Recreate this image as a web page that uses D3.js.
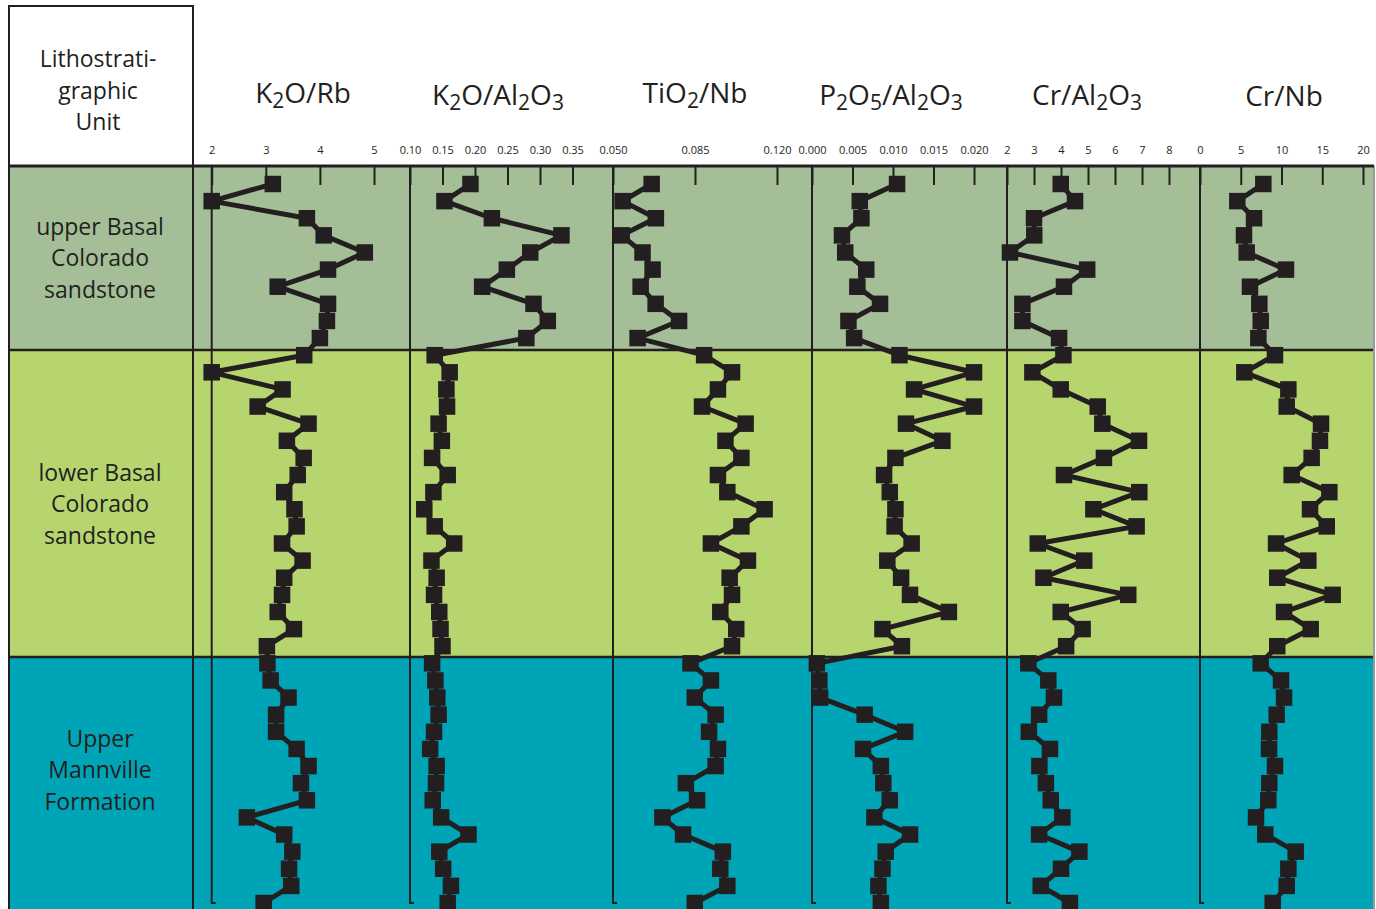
<!DOCTYPE html>
<html>
<head>
<meta charset="utf-8">
<script src="https://cdn.jsdelivr.net/npm/d3@7"></script>
<style>
  html, body { margin: 0; padding: 0; background: #ffffff; }
  svg { display: block; }
  text { font-family: "Open Sans", "Noto Sans", sans-serif; fill: #231f20; }
</style>
</head>
<body>
<svg id="chart" width="1376" height="909"></svg>
<script>
// Lithostratigraphic units (top to bottom) with their sample-row extents
const unitNames = [
  ["upper Basal", "Colorado", "sandstone"],
  ["lower Basal", "Colorado", "sandstone"],
  ["Upper", "Mannville", "Formation"]
];
const unitTops    = [-1.05, 9.7, 27.63];
const unitBottoms = [9.7, 27.63, 42.4];
const unitColors  = ["#a4bf97", "#b6d56f", "#00a4b7"];

// Geochemical ratios, one value per sample, listed from top to bottom
const k2oRb = [3.13,2.00,3.76,4.07,4.83,4.15,3.22,4.15,4.13,4.00,
  3.71,2.00,3.31,2.85,3.79,3.39,3.70,3.59,3.34,3.53,3.57,3.30,3.68,3.34,3.30,3.22,3.52,3.02,
  3.03,3.09,3.42,3.19,3.19,3.57,3.79,3.65,3.76,2.65,3.34,3.49,3.43,3.47,2.96];
const k2oAl2o3 = [0.193,0.153,0.226,0.333,0.285,0.249,0.211,0.290,0.312,0.279,
  0.138,0.161,0.156,0.157,0.144,0.149,0.134,0.158,0.136,0.122,0.138,0.168,0.133,0.141,0.137,0.145,0.147,0.150,
  0.134,0.139,0.142,0.144,0.137,0.131,0.141,0.140,0.135,0.148,0.190,0.145,0.151,0.163,0.158];
const tio2Nb = [0.0665,0.0541,0.0683,0.0537,0.0626,0.0669,0.0618,0.0682,0.0782,0.0605,
  0.0889,0.1008,0.0948,0.0880,0.1066,0.0980,0.1048,0.0948,0.0988,0.1147,0.1048,0.0918,0.1076,0.0998,0.1008,0.0958,0.1026,0.1008,
  0.0831,0.0918,0.0849,0.0938,0.0910,0.0948,0.0938,0.0811,0.0859,0.0711,0.0799,0.0969,0.0958,0.0988,0.0849];
const p2o5Al2o3 = [0.0105,0.0059,0.0061,0.0037,0.0041,0.0067,0.0056,0.0084,0.0045,0.0052,
  0.0108,0.0200,0.0126,0.0200,0.0116,0.0161,0.0103,0.0089,0.0096,0.0103,0.0102,0.0123,0.0093,0.0110,0.0121,0.0169,0.0087,0.0111,
  0.0006,0.0009,0.0010,0.0065,0.0115,0.0063,0.0085,0.0088,0.0096,0.0077,0.0121,0.0091,0.0087,0.0082,0.0085];
const crAl2o3 = [3.99,4.52,3.00,3.01,2.11,4.97,4.11,2.57,2.57,3.93,
  4.09,2.94,3.99,5.36,5.53,6.89,5.59,4.11,6.90,5.20,6.80,3.14,4.86,3.35,6.49,3.99,4.80,4.19,
  2.79,3.53,3.74,3.19,2.81,3.59,3.20,3.44,3.62,4.05,3.19,4.68,4.00,3.25,4.33];
const crNb = [7.77,4.58,6.63,5.40,5.73,10.55,6.13,7.28,7.45,7.16,
  9.20,5.44,10.84,10.64,14.85,14.72,13.70,11.25,15.87,13.50,15.55,9.33,13.29,9.48,16.28,10.31,13.58,9.48,
  7.45,9.94,10.31,9.41,8.50,8.47,9.20,8.50,8.38,6.87,8.01,11.74,10.84,10.64,8.92];

// Axis domains and tick labels of each ratio column
const domains = [[2, 5], [0.10, 0.35], [0.050, 0.120], [0.000, 0.020], [2, 8], [0, 20]];
const tickLabels = [
  ["2","3","4","5"],
  ["0.10","0.15","0.20","0.25","0.30","0.35"],
  ["0.050","0.085","0.120"],
  ["0.000","0.005","0.010","0.015","0.020"],
  ["2","3","4","5","6","7","8"],
  ["0","5","10","15","20"]
];
// Column titles: [text, isSubscript] pieces
const titles = [
  [["K",0],["2",1],["O/Rb",0]],
  [["K",0],["2",1],["O/Al",0],["2",1],["O",0],["3",1]],
  [["TiO",0],["2",1],["/Nb",0]],
  [["P",0],["2",1],["O",0],["5",1],["/Al",0],["2",1],["O",0],["3",1]],
  [["Cr/Al",0],["2",1],["O",0],["3",1]],
  [["Cr/Nb",0]]
];
const seriesList = [k2oRb, k2oAl2o3, tio2Nb, p2o5Al2o3, crAl2o3, crNb];

// Layout
const ink = "#231f20";
const headerBottom = 166;
const frameLeft = 9, unitRight = 193, frameRight = 1373;
const axisBottom = 903;
const colRanges = [[211.7, 374], [410, 572.5], [613, 777], [812, 974], [1007, 1169], [1200, 1363]];
const titleX = [303, 498, 695, 891, 1087, 1284];
const titleY = [103, 105, 103, 105, 105, 106];
const labelMid = [258, 504, 770];

const svg = d3.select("#chart");

const nRows = k2oRb.length;
const y = d3.scaleLinear().domain([0, nRows - 1]).range([184, axisBottom]);

// Unit bands
svg.append("g").selectAll("rect")
  .data(unitNames)
  .join("rect")
  .attr("x", frameLeft)
  .attr("width", frameRight - frameLeft)
  .attr("y", (d, i) => y(unitTops[i]))
  .attr("height", (d, i) => y(unitBottoms[i]) - y(unitTops[i]))
  .attr("fill", (d, i) => unitColors[i]);

// Unit names
unitNames.forEach((lines, i) => {
  const t = svg.append("text")
    .attr("text-anchor", "middle")
    .attr("font-size", 23);
  lines.forEach((ln, j) => {
    t.append("tspan")
      .attr("x", 100)
      .attr("y", labelMid[i] + (j - 1) * 31.5 + 8)
      .text(ln);
  });
});

// Unit boundaries
svg.append("g").selectAll("line")
  .data(unitTops.slice(1))
  .join("line")
  .attr("x1", frameLeft).attr("x2", frameRight)
  .attr("y1", d => y(d)).attr("y2", d => y(d))
  .attr("stroke", ink).attr("stroke-width", 2.5);

// Header box for the unit column
svg.append("rect")
  .attr("x", frameLeft).attr("y", 6)
  .attr("width", unitRight - frameLeft).attr("height", headerBottom - 6)
  .attr("fill", "#ffffff")
  .attr("stroke", ink).attr("stroke-width", 2);
const head = svg.append("text").attr("text-anchor", "middle").attr("font-size", 23);
["Lithostrati-", "graphic", "Unit"].forEach((ln, j) => {
  head.append("tspan").attr("x", 98).attr("y", 67 + j * 31.5).text(ln);
});

// Frame lines
svg.append("line")
  .attr("x1", frameLeft).attr("x2", frameLeft)
  .attr("y1", 6).attr("y2", 909)
  .attr("stroke", ink).attr("stroke-width", 2);
svg.append("line")
  .attr("x1", unitRight).attr("x2", unitRight)
  .attr("y1", 6).attr("y2", 909)
  .attr("stroke", ink).attr("stroke-width", 2);
svg.append("line")
  .attr("x1", frameRight + 1).attr("x2", frameRight + 1)
  .attr("y1", headerBottom).attr("y2", 909)
  .attr("stroke", "#9a9a9a").attr("stroke-width", 2);

// Ratio columns
seriesList.forEach((values, c) => {
  const x = d3.scaleLinear().domain(domains[c]).range(colRanges[c]);
  const g = svg.append("g");

  // Axis line with a small foot at the bottom
  g.append("path")
    .attr("d", `M${x(domains[c][0])},${headerBottom}V${axisBottom}h4`)
    .attr("fill", "none")
    .attr("stroke", ink).attr("stroke-width", 2);

  // Ticks pointing down into the column, labels above
  const tickVals = tickLabels[c].map(Number);
  const axis = d3.axisTop(x)
    .tickValues(tickVals)
    .tickFormat((d, i) => tickLabels[c][i])
    .tickSizeInner(-19)
    .tickSizeOuter(0)
    .tickPadding(12);
  const ag = g.append("g")
    .attr("transform", `translate(0,${headerBottom})`)
    .call(axis);
  ag.select(".domain").remove();
  ag.selectAll(".tick line").attr("stroke", ink).attr("stroke-width", 2);
  ag.selectAll(".tick text")
    .attr("fill", ink)
    .attr("font-size", 11)
    .attr("font-family", "\"Open Sans\", \"Noto Sans\", sans-serif");

  // Column title
  const tt = g.append("text")
    .attr("x", titleX[c]).attr("y", titleY[c])
    .attr("text-anchor", "middle")
    .attr("font-size", 28);
  titles[c].forEach(([s, sub]) => {
    tt.append("tspan")
      .attr("font-size", sub ? 21 : 28)
      .attr("baseline-shift", sub ? "-22%" : null)
      .text(s);
  });

  // Profile line and sample markers
  const line = d3.line().x(d => x(d)).y((d, i) => y(i));
  g.append("path")
    .datum(values)
    .attr("d", line)
    .attr("fill", "none")
    .attr("stroke", ink)
    .attr("stroke-width", 5)
    .attr("stroke-linejoin", "round");
  const s = 16.5;
  g.selectAll("rect.mk")
    .data(values)
    .join("rect")
    .attr("class", "mk")
    .attr("x", d => x(d) - s / 2)
    .attr("y", (d, i) => y(i) - s / 2)
    .attr("width", s).attr("height", s)
    .attr("fill", ink);
});

// Heavy line under the header
svg.append("line")
  .attr("x1", frameLeft - 1).attr("x2", frameRight + 1)
  .attr("y1", headerBottom).attr("y2", headerBottom)
  .attr("stroke", ink).attr("stroke-width", 3);
</script>
</body>
</html>
